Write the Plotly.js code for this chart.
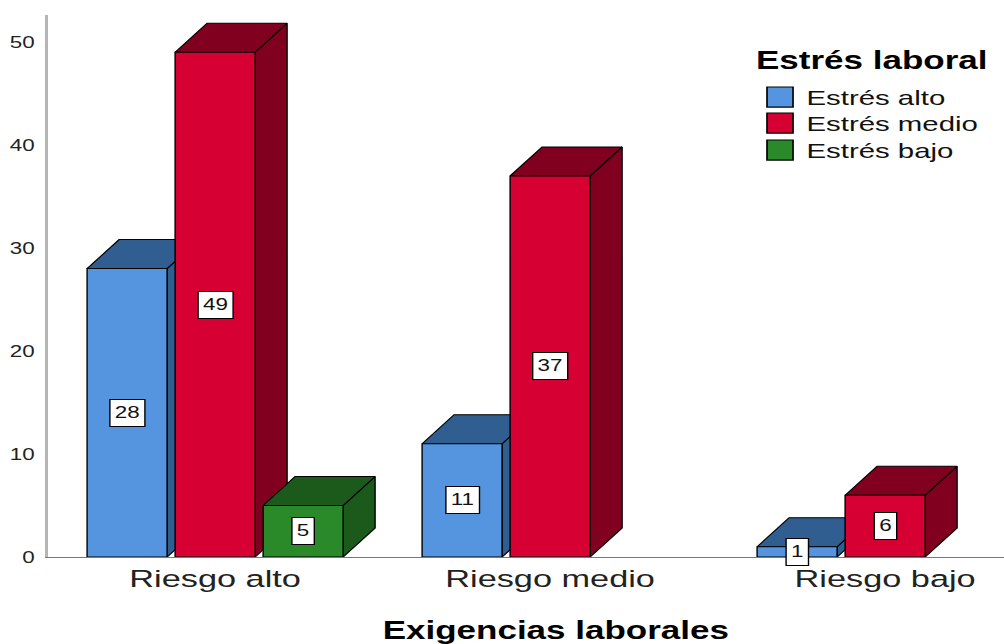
<!DOCTYPE html>
<html>
<head>
<meta charset="utf-8">
<script src="https://cdn.plot.ly/plotly-3.0.1.min.js"></script>
<style>
html,body{margin:0;padding:0;overflow:hidden;background:#fff;width:1004px;height:644px;}
#chart{width:760px;height:644px;transform:scaleX(1.4);transform-origin:0 0;}
</style>
</head>
<body>
<div id="chart"></div>
<script>
// ---- data ----
var categories = ['Riesgo alto', 'Riesgo medio', 'Riesgo bajo'];
var seriesNames = ['Estrés alto', 'Estrés medio', 'Estrés bajo'];
var estresAlto = [28, 11, 1];
var estresMedio = [49, 37, 6];
var estresBajo = [5, null, null];
var yTicks = [0, 10, 20, 30, 40, 50];
var legendTitle = 'Estrés laboral';
var xTitle = 'Exigencias laborales';

// ---- styles ----
var frontColors = ['#5595e0', '#d60032', '#2a8a2a'];
var darkColors = ['#315e90', '#82001f', '#1c5a1c'];
var FONT = 'Liberation Sans, Arial, sans-serif';
var slot = 0.2627, barW = 0.2388, dX = 0.0955, dY = 2.816;

var allSeries = [estresAlto, estresMedio, estresBajo];
var traces = [];
var annotations = [];

allSeries.forEach(function (vals, s) {
  var side = {x: [], y: []}, top = {x: [], y: []}, front = {x: [], y: []};
  vals.forEach(function (v, c) {
    if (v === null || v === undefined) return;
    var xl = c + (s - 1) * slot - barW / 2, xr = xl + barW;
    side.x.push(xr, xr, xr + dX, xr + dX, xr, null);
    side.y.push(0, v, v + dY, dY, 0, null);
    top.x.push(xl, xl + dX, xr + dX, xr, xl, null);
    top.y.push(v, v + dY, v + dY, v, v, null);
    front.x.push(xl, xl, xr, xr, xl, null);
    front.y.push(0, v, v, 0, 0, null);
    annotations.push({
      x: c + (s - 1) * slot, y: v / 2, xref: 'x', yref: 'y',
      text: String(v), showarrow: false, height: 20,
      font: {family: FONT, size: 16, color: '#111'},
      bgcolor: '#ffffff', bordercolor: '#000000', borderwidth: 1, borderpad: 3
    });
  });
  [[side, darkColors[s]], [top, darkColors[s]], [front, frontColors[s]]].forEach(function (p) {
    traces.push({
      type: 'scatter', mode: 'lines', x: p[0].x, y: p[0].y,
      fill: 'toself', fillcolor: p[1], line: {color: '#000', width: 1},
      hoverinfo: 'skip', showlegend: false, name: seriesNames[s]
    });
  });
});

// ---- custom legend (paper coords) ----
var shapes = [];
annotations.push({
  xref: 'paper', yref: 'paper', x: 0.694, y: 0.917, xanchor: 'left', yanchor: 'middle',
  text: '<b>' + legendTitle + '</b>', showarrow: false,
  font: {family: FONT, size: 25, color: '#000'}
});
var rowY = [0.8487, 0.8007, 0.7509];
seriesNames.forEach(function (n, i) {
  shapes.push({
    type: 'rect', xref: 'paper', yref: 'paper',
    x0: 0.7078, x1: 0.7334, y0: rowY[i] - 0.0185, y1: rowY[i] + 0.0185,
    fillcolor: frontColors[i], line: {color: '#000', width: 1.2}
  });
  annotations.push({
    xref: 'paper', yref: 'paper', x: 0.7432, y: rowY[i], xanchor: 'left', yanchor: 'middle',
    text: n, showarrow: false, font: {family: FONT, size: 21, color: '#111'}
  });
});

var layout = {
  width: 760, height: 644,
  margin: {l: 34, r: 0, t: 15, b: 87},
  paper_bgcolor: '#fff', plot_bgcolor: '#fff',
  showlegend: false,
  font: {family: FONT, color: '#111'},
  xaxis: {
    range: [-0.5, 2.534], tickmode: 'array', tickvals: [0, 1, 2], ticktext: categories,
    showgrid: false, zeroline: false, showline: true, linecolor: '#777', linewidth: 1,
    ticks: '', tickfont: {family: FONT, size: 24.5, color: '#222'},
    title: {text: '<b>' + xTitle + '</b>', font: {family: FONT, size: 25, color: '#000'}, standoff: 34},
    fixedrange: true
  },
  yaxis: {
    range: [0, 52.62], tickmode: 'array', tickvals: yTicks,
    showgrid: false, zeroline: false, showline: true, linecolor: '#b5b5b5', linewidth: 2,
    ticks: '', ticklabelstandoff: 4, tickfont: {family: FONT, size: 16, color: '#222'},
    fixedrange: true
  },
  shapes: shapes,
  annotations: annotations
};

Plotly.newPlot('chart', traces, layout, {displayModeBar: false, staticPlot: true});
</script>
</body>
</html>
